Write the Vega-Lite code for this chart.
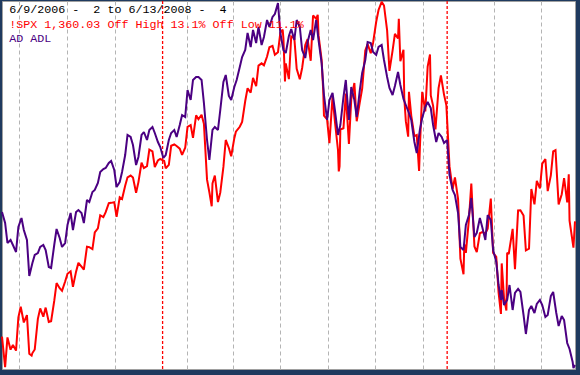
{
  "$schema": "https://vega.github.io/schema/vega-lite/v6.json",
  "width": 573,
  "height": 368,
  "autosize": {"type": "none"},
  "padding": {"left": 2, "top": 1, "right": 5, "bottom": 6},
  "background": "#1f3a5f",
  "config": {"view": {"fill": "#ffffff", "stroke": "#a0a0a0", "strokeWidth": 1}},
  "datasets": {
    "years": [{"d":"2007-01-01"},{"d":"2008-01-01"}],
    "spx": [
      {"d":"2006-06-09","v":1252.3},{"d":"2006-06-13","v":1223.7},{"d":"2006-06-16","v":1251.5},{"d":"2006-06-20","v":1240.1},
      {"d":"2006-06-23","v":1244.5},{"d":"2006-06-27","v":1239.2},{"d":"2006-06-30","v":1270.2},{"d":"2006-07-03","v":1280.2},
      {"d":"2006-07-07","v":1265.5},{"d":"2006-07-11","v":1272.4},{"d":"2006-07-14","v":1236.2},{"d":"2006-07-17","v":1234.5},
      {"d":"2006-07-18","v":1236.9},{"d":"2006-07-21","v":1240.3},{"d":"2006-07-25","v":1268.9},{"d":"2006-07-28","v":1278.6},
      {"d":"2006-08-01","v":1270.9},{"d":"2006-08-04","v":1279.4},{"d":"2006-08-08","v":1266.0},{"d":"2006-08-11","v":1266.7},
      {"d":"2006-08-15","v":1285.6},{"d":"2006-08-18","v":1302.3},{"d":"2006-08-22","v":1297.5},{"d":"2006-08-25","v":1295.1},
      {"d":"2006-08-29","v":1303.8},{"d":"2006-09-01","v":1311.0},{"d":"2006-09-05","v":1313.3},{"d":"2006-09-08","v":1298.9},
      {"d":"2006-09-12","v":1313.0},{"d":"2006-09-15","v":1321.2},{"d":"2006-09-19","v":1317.6},{"d":"2006-09-22","v":1314.8},
      {"d":"2006-09-26","v":1336.4},{"d":"2006-09-29","v":1335.9},{"d":"2006-10-03","v":1334.1},{"d":"2006-10-06","v":1349.6},
      {"d":"2006-10-10","v":1353.4},{"d":"2006-10-13","v":1365.6},{"d":"2006-10-17","v":1364.0},{"d":"2006-10-20","v":1368.6},
      {"d":"2006-10-24","v":1377.0},{"d":"2006-10-27","v":1377.3},{"d":"2006-10-31","v":1377.9},{"d":"2006-11-03","v":1364.3},
      {"d":"2006-11-07","v":1382.5},{"d":"2006-11-10","v":1380.9},{"d":"2006-11-14","v":1393.2},{"d":"2006-11-17","v":1401.2},
      {"d":"2006-11-21","v":1402.8},{"d":"2006-11-24","v":1400.9},{"d":"2006-11-28","v":1386.7},{"d":"2006-12-01","v":1396.7},
      {"d":"2006-12-05","v":1414.8},{"d":"2006-12-08","v":1409.8},{"d":"2006-12-12","v":1411.6},{"d":"2006-12-15","v":1427.1},
      {"d":"2006-12-19","v":1425.5},{"d":"2006-12-22","v":1410.8},{"d":"2006-12-26","v":1416.9},{"d":"2006-12-29","v":1418.3},
      {"d":"2007-01-03","v":1416.6},{"d":"2007-01-05","v":1409.7},{"d":"2007-01-09","v":1412.8},{"d":"2007-01-12","v":1430.7},
      {"d":"2007-01-16","v":1431.9},{"d":"2007-01-19","v":1430.5},{"d":"2007-01-23","v":1428.0},{"d":"2007-01-26","v":1422.2},
      {"d":"2007-01-30","v":1428.8},{"d":"2007-02-02","v":1448.4},{"d":"2007-02-06","v":1450.0},{"d":"2007-02-09","v":1438.1},
      {"d":"2007-02-13","v":1459.1},{"d":"2007-02-16","v":1455.5},{"d":"2007-02-20","v":1459.7},{"d":"2007-02-23","v":1451.2},
      {"d":"2007-02-27","v":1399.0},{"d":"2007-03-02","v":1387.2},{"d":"2007-03-05","v":1374.1},{"d":"2007-03-06","v":1395.4},
      {"d":"2007-03-09","v":1402.8},{"d":"2007-03-13","v":1378.0},{"d":"2007-03-16","v":1387.0},{"d":"2007-03-20","v":1410.9},
      {"d":"2007-03-23","v":1436.1},{"d":"2007-03-27","v":1428.6},{"d":"2007-03-30","v":1420.9},{"d":"2007-04-03","v":1437.8},
      {"d":"2007-04-05","v":1443.8},{"d":"2007-04-10","v":1448.4},{"d":"2007-04-13","v":1452.9},{"d":"2007-04-17","v":1472.5},
      {"d":"2007-04-20","v":1484.4},{"d":"2007-04-24","v":1480.4},{"d":"2007-04-27","v":1494.1},{"d":"2007-05-01","v":1486.3},
      {"d":"2007-05-04","v":1505.6},{"d":"2007-05-08","v":1507.7},{"d":"2007-05-11","v":1505.9},{"d":"2007-05-15","v":1514.1},
      {"d":"2007-05-18","v":1522.8},{"d":"2007-05-22","v":1524.1},{"d":"2007-05-25","v":1515.7},{"d":"2007-05-29","v":1518.1},
      {"d":"2007-06-01","v":1536.3},{"d":"2007-06-04","v":1539.2},{"d":"2007-06-05","v":1530.9},{"d":"2007-06-07","v":1490.7},
      {"d":"2007-06-08","v":1507.7},{"d":"2007-06-12","v":1493.0},{"d":"2007-06-15","v":1532.9},{"d":"2007-06-19","v":1531.1},
      {"d":"2007-06-22","v":1502.6},{"d":"2007-06-26","v":1492.9},{"d":"2007-06-29","v":1503.4},{"d":"2007-07-03","v":1524.9},
      {"d":"2007-07-06","v":1530.4},{"d":"2007-07-10","v":1510.1},{"d":"2007-07-13","v":1552.5},{"d":"2007-07-17","v":1549.4},
      {"d":"2007-07-19","v":1553.1},{"d":"2007-07-20","v":1534.1},{"d":"2007-07-24","v":1511.0},{"d":"2007-07-26","v":1482.7},
      {"d":"2007-07-27","v":1458.9},{"d":"2007-07-31","v":1455.3},{"d":"2007-08-03","v":1433.1},{"d":"2007-08-07","v":1476.7},
      {"d":"2007-08-10","v":1453.6},{"d":"2007-08-14","v":1426.5},{"d":"2007-08-15","v":1406.7},{"d":"2007-08-16","v":1411.3},
      {"d":"2007-08-17","v":1445.9},{"d":"2007-08-21","v":1447.1},{"d":"2007-08-24","v":1479.4},{"d":"2007-08-28","v":1432.4},
      {"d":"2007-08-31","v":1474.0},{"d":"2007-09-04","v":1489.4},{"d":"2007-09-07","v":1453.6},{"d":"2007-09-11","v":1471.5},
      {"d":"2007-09-14","v":1484.2},{"d":"2007-09-18","v":1519.8},{"d":"2007-09-21","v":1525.8},{"d":"2007-09-25","v":1517.2},
      {"d":"2007-09-28","v":1526.8},{"d":"2007-10-02","v":1546.6},{"d":"2007-10-05","v":1557.6},{"d":"2007-10-09","v":1565.2},
      {"d":"2007-10-12","v":1561.8},{"d":"2007-10-16","v":1538.5},{"d":"2007-10-19","v":1500.6},{"d":"2007-10-23","v":1519.6},
      {"d":"2007-10-26","v":1535.3},{"d":"2007-10-30","v":1531.0},{"d":"2007-10-31","v":1549.4},{"d":"2007-11-02","v":1509.7},
      {"d":"2007-11-06","v":1520.3},{"d":"2007-11-07","v":1475.6},{"d":"2007-11-09","v":1453.7},{"d":"2007-11-12","v":1439.2},
      {"d":"2007-11-13","v":1481.1},{"d":"2007-11-16","v":1458.7},{"d":"2007-11-20","v":1439.7},{"d":"2007-11-23","v":1440.7},
      {"d":"2007-11-26","v":1407.2},{"d":"2007-11-27","v":1428.2},{"d":"2007-11-30","v":1481.1},{"d":"2007-12-04","v":1462.8},
      {"d":"2007-12-07","v":1504.7},{"d":"2007-12-10","v":1516.0},{"d":"2007-12-11","v":1477.7},{"d":"2007-12-14","v":1468.0},
      {"d":"2007-12-17","v":1445.9},{"d":"2007-12-21","v":1484.5},{"d":"2007-12-24","v":1496.5},{"d":"2007-12-28","v":1478.5},
      {"d":"2007-12-31","v":1468.4},{"d":"2008-01-04","v":1411.6},{"d":"2008-01-08","v":1390.2},{"d":"2008-01-11","v":1401.0},
      {"d":"2008-01-15","v":1381.0},{"d":"2008-01-18","v":1325.2},{"d":"2008-01-22","v":1310.5},{"d":"2008-01-23","v":1338.6},
      {"d":"2008-01-25","v":1330.6},{"d":"2008-01-29","v":1362.3},{"d":"2008-02-01","v":1395.4},{"d":"2008-02-05","v":1336.6},
      {"d":"2008-02-08","v":1331.3},{"d":"2008-02-12","v":1348.9},{"d":"2008-02-15","v":1350.0},{"d":"2008-02-19","v":1348.8},
      {"d":"2008-02-22","v":1353.1},{"d":"2008-02-26","v":1381.3},{"d":"2008-02-29","v":1330.6},{"d":"2008-03-04","v":1326.8},
      {"d":"2008-03-07","v":1293.4},{"d":"2008-03-10","v":1273.4},{"d":"2008-03-11","v":1320.7},{"d":"2008-03-14","v":1288.1},
      {"d":"2008-03-17","v":1276.6},{"d":"2008-03-18","v":1330.7},{"d":"2008-03-20","v":1329.5},{"d":"2008-03-25","v":1353.0},
      {"d":"2008-03-28","v":1315.2},{"d":"2008-04-01","v":1370.2},{"d":"2008-04-04","v":1370.4},{"d":"2008-04-08","v":1365.5},
      {"d":"2008-04-11","v":1332.8},{"d":"2008-04-15","v":1334.4},{"d":"2008-04-18","v":1390.3},{"d":"2008-04-22","v":1375.9},
      {"d":"2008-04-25","v":1397.8},{"d":"2008-04-29","v":1390.9},{"d":"2008-05-02","v":1413.9},{"d":"2008-05-06","v":1418.3},
      {"d":"2008-05-09","v":1388.3},{"d":"2008-05-13","v":1403.0},{"d":"2008-05-16","v":1425.4},{"d":"2008-05-19","v":1426.6},
      {"d":"2008-05-23","v":1375.9},{"d":"2008-05-27","v":1385.4},{"d":"2008-05-30","v":1400.4},{"d":"2008-06-03","v":1377.7},
      {"d":"2008-06-05","v":1404.1},{"d":"2008-06-06","v":1360.7},{"d":"2008-06-11","v":1335.5},{"d":"2008-06-13","v":1360.0}
    ],
    "adl": [
      {"d":"2006-06-09","v":157},{"d":"2006-06-13","v":146},{"d":"2006-06-16","v":126},{"d":"2006-06-20","v":129},
      {"d":"2006-06-23","v":124},{"d":"2006-06-27","v":117},{"d":"2006-06-30","v":142},{"d":"2006-07-04","v":151},
      {"d":"2006-07-07","v":139},{"d":"2006-07-11","v":129},{"d":"2006-07-14","v":93},{"d":"2006-07-18","v":106},
      {"d":"2006-07-21","v":114},{"d":"2006-07-25","v":116},{"d":"2006-07-28","v":122},{"d":"2006-08-01","v":124},
      {"d":"2006-08-04","v":119},{"d":"2006-08-08","v":102},{"d":"2006-08-11","v":101},{"d":"2006-08-15","v":124},
      {"d":"2006-08-18","v":140},{"d":"2006-08-22","v":131},{"d":"2006-08-25","v":122},{"d":"2006-08-29","v":126},
      {"d":"2006-09-01","v":144},{"d":"2006-09-05","v":156},{"d":"2006-09-08","v":139},{"d":"2006-09-12","v":157},
      {"d":"2006-09-15","v":159},{"d":"2006-09-19","v":156},{"d":"2006-09-22","v":146},{"d":"2006-09-26","v":169},
      {"d":"2006-09-29","v":167},{"d":"2006-10-03","v":177},{"d":"2006-10-06","v":179},{"d":"2006-10-10","v":186},
      {"d":"2006-10-13","v":197},{"d":"2006-10-17","v":200},{"d":"2006-10-20","v":201},{"d":"2006-10-24","v":206},
      {"d":"2006-10-27","v":208},{"d":"2006-10-31","v":199},{"d":"2006-11-03","v":182},{"d":"2006-11-07","v":187},
      {"d":"2006-11-10","v":197},{"d":"2006-11-14","v":214},{"d":"2006-11-17","v":234},{"d":"2006-11-21","v":232},
      {"d":"2006-11-24","v":224},{"d":"2006-11-28","v":204},{"d":"2006-12-01","v":212},{"d":"2006-12-05","v":234},
      {"d":"2006-12-08","v":237},{"d":"2006-12-12","v":229},{"d":"2006-12-15","v":239},{"d":"2006-12-19","v":242},
      {"d":"2006-12-22","v":236},{"d":"2006-12-26","v":227},{"d":"2006-12-29","v":222},{"d":"2007-01-02","v":211},
      {"d":"2007-01-05","v":214},{"d":"2007-01-09","v":229},{"d":"2007-01-12","v":236},{"d":"2007-01-16","v":239},
      {"d":"2007-01-19","v":232},{"d":"2007-01-23","v":244},{"d":"2007-01-26","v":254},{"d":"2007-01-30","v":252},
      {"d":"2007-02-02","v":279},{"d":"2007-02-06","v":269},{"d":"2007-02-09","v":289},{"d":"2007-02-13","v":292},
      {"d":"2007-02-16","v":292},{"d":"2007-02-20","v":289},{"d":"2007-02-23","v":266},{"d":"2007-02-27","v":229},
      {"d":"2007-03-02","v":209},{"d":"2007-03-06","v":239},{"d":"2007-03-09","v":242},{"d":"2007-03-13","v":239},
      {"d":"2007-03-16","v":259},{"d":"2007-03-20","v":287},{"d":"2007-03-23","v":294},{"d":"2007-03-27","v":273},
      {"d":"2007-03-30","v":269},{"d":"2007-04-03","v":282},{"d":"2007-04-06","v":289},{"d":"2007-04-10","v":302},
      {"d":"2007-04-13","v":312},{"d":"2007-04-17","v":319},{"d":"2007-04-20","v":336},{"d":"2007-04-24","v":322},
      {"d":"2007-04-27","v":339},{"d":"2007-05-01","v":326},{"d":"2007-05-04","v":342},{"d":"2007-05-08","v":324},
      {"d":"2007-05-11","v":332},{"d":"2007-05-15","v":349},{"d":"2007-05-18","v":342},{"d":"2007-05-22","v":352},
      {"d":"2007-05-25","v":355},{"d":"2007-05-29","v":366},{"d":"2007-06-01","v":336},{"d":"2007-06-05","v":319},
      {"d":"2007-06-08","v":316},{"d":"2007-06-12","v":333},{"d":"2007-06-15","v":340},{"d":"2007-06-19","v":329},
      {"d":"2007-06-22","v":349},{"d":"2007-06-26","v":342},{"d":"2007-06-29","v":319},{"d":"2007-07-03","v":311},
      {"d":"2007-07-06","v":327},{"d":"2007-07-10","v":339},{"d":"2007-07-13","v":329},{"d":"2007-07-17","v":349},
      {"d":"2007-07-20","v":329},{"d":"2007-07-24","v":306},{"d":"2007-07-27","v":274},{"d":"2007-07-31","v":249},
      {"d":"2007-08-03","v":269},{"d":"2007-08-07","v":276},{"d":"2007-08-10","v":259},{"d":"2007-08-14","v":234},
      {"d":"2007-08-17","v":244},{"d":"2007-08-21","v":272},{"d":"2007-08-24","v":289},{"d":"2007-08-28","v":249},
      {"d":"2007-08-31","v":282},{"d":"2007-09-04","v":269},{"d":"2007-09-07","v":252},{"d":"2007-09-11","v":279},
      {"d":"2007-09-14","v":296},{"d":"2007-09-18","v":309},{"d":"2007-09-21","v":327},{"d":"2007-09-25","v":326},
      {"d":"2007-09-28","v":317},{"d":"2007-10-02","v":314},{"d":"2007-10-05","v":322},{"d":"2007-10-09","v":324},
      {"d":"2007-10-12","v":309},{"d":"2007-10-16","v":292},{"d":"2007-10-19","v":281},{"d":"2007-10-23","v":274},
      {"d":"2007-10-26","v":283},{"d":"2007-10-30","v":297},{"d":"2007-11-02","v":284},{"d":"2007-11-06","v":270},
      {"d":"2007-11-09","v":264},{"d":"2007-11-13","v":256},{"d":"2007-11-16","v":249},{"d":"2007-11-20","v":227},
      {"d":"2007-11-23","v":216},{"d":"2007-11-27","v":239},{"d":"2007-11-30","v":251},{"d":"2007-12-04","v":262},
      {"d":"2007-12-07","v":267},{"d":"2007-12-11","v":261},{"d":"2007-12-14","v":244},{"d":"2007-12-18","v":227},
      {"d":"2007-12-21","v":236},{"d":"2007-12-25","v":232},{"d":"2007-12-28","v":226},{"d":"2008-01-01","v":229},
      {"d":"2008-01-04","v":194},{"d":"2008-01-08","v":179},{"d":"2008-01-11","v":174},{"d":"2008-01-15","v":156},
      {"d":"2008-01-18","v":122},{"d":"2008-01-22","v":119},{"d":"2008-01-25","v":144},{"d":"2008-01-29","v":154},
      {"d":"2008-02-01","v":171},{"d":"2008-02-05","v":132},{"d":"2008-02-08","v":136},{"d":"2008-02-12","v":151},
      {"d":"2008-02-15","v":142},{"d":"2008-02-19","v":129},{"d":"2008-02-22","v":154},{"d":"2008-02-26","v":149},
      {"d":"2008-02-29","v":119},{"d":"2008-03-04","v":107},{"d":"2008-03-07","v":84},{"d":"2008-03-10","v":69},
      {"d":"2008-03-11","v":79},{"d":"2008-03-14","v":64},{"d":"2008-03-18","v":69},{"d":"2008-03-21","v":84},
      {"d":"2008-03-25","v":59},{"d":"2008-03-28","v":76},{"d":"2008-04-01","v":80},{"d":"2008-04-04","v":77},
      {"d":"2008-04-08","v":54},{"d":"2008-04-11","v":35},{"d":"2008-04-15","v":59},{"d":"2008-04-18","v":63},
      {"d":"2008-04-22","v":56},{"d":"2008-04-25","v":65},{"d":"2008-04-29","v":69},{"d":"2008-05-02","v":64},
      {"d":"2008-05-06","v":52},{"d":"2008-05-09","v":54},{"d":"2008-05-13","v":73},{"d":"2008-05-16","v":77},
      {"d":"2008-05-20","v":56},{"d":"2008-05-23","v":43},{"d":"2008-05-27","v":53},{"d":"2008-05-30","v":49},
      {"d":"2008-06-03","v":26},{"d":"2008-06-06","v":20},{"d":"2008-06-10","v":7},{"d":"2008-06-11","v":1},
      {"d":"2008-06-13","v":4}
    ]
  },
  "layer": [
    {
      "data": {"name": "years"},
      "mark": {"type": "rule", "color": "#ff0000", "strokeWidth": 1.3, "strokeDash": [3, 2]},
      "encoding": {
        "x": {
          "field": "d", "type": "temporal",
          "scale": {"type": "utc", "nice": false, "domain": [{"year": 2006, "month": 6, "date": 9, "utc": true}, {"year": 2008, "month": 6, "date": 13, "utc": true}]},
          "axis": {
            "grid": true, "labels": false, "ticks": false, "domain": false, "title": null,
            "values": [
              {"year": 2006, "month": 7, "date": 1, "utc": true}, {"year": 2006, "month": 8, "date": 1, "utc": true},
              {"year": 2006, "month": 9, "date": 1, "utc": true}, {"year": 2006, "month": 10, "date": 1, "utc": true},
              {"year": 2006, "month": 11, "date": 1, "utc": true}, {"year": 2006, "month": 12, "date": 1, "utc": true},
              {"year": 2007, "month": 2, "date": 1, "utc": true}, {"year": 2007, "month": 3, "date": 1, "utc": true},
              {"year": 2007, "month": 4, "date": 1, "utc": true}, {"year": 2007, "month": 5, "date": 1, "utc": true},
              {"year": 2007, "month": 6, "date": 1, "utc": true}, {"year": 2007, "month": 7, "date": 1, "utc": true},
              {"year": 2007, "month": 8, "date": 1, "utc": true}, {"year": 2007, "month": 9, "date": 1, "utc": true},
              {"year": 2007, "month": 10, "date": 1, "utc": true}, {"year": 2007, "month": 11, "date": 1, "utc": true},
              {"year": 2007, "month": 12, "date": 1, "utc": true}, {"year": 2008, "month": 2, "date": 1, "utc": true},
              {"year": 2008, "month": 3, "date": 1, "utc": true}, {"year": 2008, "month": 4, "date": 1, "utc": true},
              {"year": 2008, "month": 5, "date": 1, "utc": true}, {"year": 2008, "month": 6, "date": 1, "utc": true}
            ],
            "gridWidth": 1,
            "gridColor": "#b4b4b4",
            "gridDash": [4, 3]
          }
        }
      }
    },
    {
      "data": {"name": "spx"},
      "mark": {"type": "line", "color": "#ff0000", "strokeWidth": 2, "strokeMiterLimit": 2},
      "encoding": {
        "x": {"field": "d", "type": "temporal"},
        "y": {"field": "v", "type": "quantitative", "scale": {"domain": [1222, 1566], "nice": false, "zero": false}, "axis": null}
      }
    },
    {
      "layer": [
        {
          "data": {"name": "adl"},
          "mark": {"type": "line", "color": "#4b0082", "strokeWidth": 2, "strokeMiterLimit": 2},
          "encoding": {
            "x": {"field": "d", "type": "temporal"},
            "y": {"field": "v", "type": "quantitative", "scale": {"domain": [0, 368], "nice": false, "zero": false}, "axis": null}
          }
        },
        {
          "data": {"values": [{}]},
          "mark": {"type": "text", "text": "6/9/2006 - \u00a02 to 6/13/2008 - \u00a04", "font": "Liberation Mono", "fontSize": 11.7, "color": "#000000", "align": "left", "baseline": "alphabetic"},
          "encoding": {
            "x": {"datum": {"year": 2006, "month": 6, "date": 18, "hours": 6, "utc": true}, "type": "temporal"},
            "y": {"datum": 356, "type": "quantitative"}
          }
        },
        {
          "data": {"values": [{}]},
          "mark": {"type": "text", "text": "!SPX 1,360.03 Off High 13.1% Off Low 11.1%", "font": "Liberation Mono", "fontSize": 11.7, "color": "#ff0000", "align": "left", "baseline": "alphabetic"},
          "encoding": {
            "x": {"datum": {"year": 2006, "month": 6, "date": 18, "hours": 6, "utc": true}, "type": "temporal"},
            "y": {"datum": 341.5, "type": "quantitative"}
          }
        },
        {
          "data": {"values": [{}]},
          "mark": {"type": "text", "text": "AD ADL", "font": "Liberation Mono", "fontSize": 11.7, "color": "#4b0082", "align": "left", "baseline": "alphabetic"},
          "encoding": {
            "x": {"datum": {"year": 2006, "month": 6, "date": 18, "hours": 6, "utc": true}, "type": "temporal"},
            "y": {"datum": 327.5, "type": "quantitative"}
          }
        }
      ]
    }
  ],
  "resolve": {"scale": {"y": "independent"}}
}
